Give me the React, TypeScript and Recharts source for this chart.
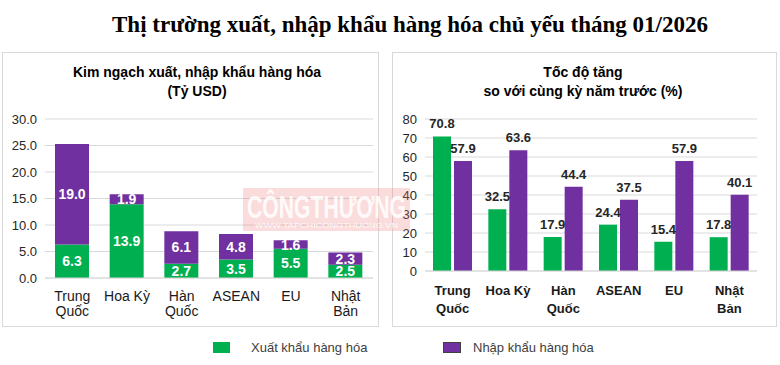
import React from 'react';
import { BarChart, Bar, XAxis, YAxis, CartesianGrid, LabelList } from 'recharts';

const categories = ['Trung\nQuốc', 'Hoa Kỳ', 'Hàn\nQuốc', 'ASEAN', 'EU', 'Nhật\nBản'];
const exportValue = [6.3, 13.9, 2.7, 3.5, 5.5, 2.5];
const importValue = [19.0, 1.9, 6.1, 4.8, 1.6, 2.3];
const exportGrowth = [70.8, 32.5, 17.9, 24.4, 15.4, 17.8];
const importGrowth = [57.9, 63.6, 44.4, 37.5, 57.9, 40.1];
const valueTicks = [0, 5, 10, 15, 20, 25, 30];
const growthTicks = [0, 10, 20, 30, 40, 50, 60, 70, 80];

const GREEN = '#00B050';
const PURPLE = '#7030A0';
const GRID = '#d9d9d9';
const FONT = 'Arial, "Liberation Sans", sans-serif';

const valueData = categories.map((c, i) => ({ name: c, ex: exportValue[i], im: importValue[i] }));
const growthData = categories.map((c, i) => ({ name: c, ex: exportGrowth[i], im: importGrowth[i] }));

// two-line category labels
function CatTick(props: any) {
  const { x, y, payload, dy, gap, weight, size } = props;
  const lines = String(payload.value).split('\n');
  return (
    <g transform={`translate(${x},${y})`}>
      {lines.map((l, i) => (
        <text
          key={i}
          x={0}
          y={dy + i * gap}
          textAnchor="middle"
          fill="#1a1a1a"
          fontSize={size}
          fontWeight={weight}
          fontFamily={FONT}
        >
          {l}
        </text>
      ))}
    </g>
  );
}

const panel: React.CSSProperties = {
  position: 'absolute',
  top: 52,
  height: 275,
  border: `1px solid ${GRID}`,
  boxSizing: 'border-box',
  background: '#fff',
};

const chartTitle: React.CSSProperties = {
  position: 'absolute',
  top: 63,
  textAlign: 'center',
  fontFamily: FONT,
  fontWeight: 'bold',
  fontSize: 14,
  lineHeight: '19px',
  color: '#000',
};

export default function App() {
  return (
    <div
      style={{
        position: 'absolute',
        left: 0,
        top: 0,
        width: 780,
        height: 365,
        background: '#fff',
        overflow: 'hidden',
      }}
    >
      <div
        style={{
          position: 'absolute',
          top: 10,
          left: 0,
          width: 820,
          textAlign: 'center',
          fontFamily: '"Liberation Serif", "Times New Roman", serif',
          fontWeight: 'bold',
          fontSize: 23,
          lineHeight: '30px',
          color: '#000',
        }}
      >
        Thị trường xuất, nhập khẩu hàng hóa chủ yếu tháng 01/2026
      </div>

      <div style={{ ...panel, left: 2, width: 377 }} />
      <div style={{ ...panel, left: 392, width: 385 }} />

      <div style={{ ...chartTitle, left: 2, width: 390 }}>
        Kim ngạch xuất, nhập khẩu hàng hóa
        <br />
        (Tỷ USD)
      </div>
      <div style={{ ...chartTitle, left: 392, width: 382 }}>
        Tốc độ tăng
        <br />
        so với cùng kỳ năm trước (%)
      </div>

      <div style={{ position: 'absolute', left: 2, top: 52 }}>
        <BarChart
          width={376}
          height={275}
          data={valueData}
          margin={{ top: 67, right: 5, bottom: 0, left: 0 }}
          barSize={34}
        >
          <CartesianGrid vertical={false} stroke={GRID} />
          <XAxis
            dataKey="name"
            axisLine={{ stroke: GRID }}
            tickLine={false}
            height={49}
            interval={0}
            tick={<CatTick dy={15} gap={15} size={14} weight="normal" />}
          />
          <YAxis
            width={43}
            domain={[0, 30]}
            ticks={valueTicks}
            interval={0}
            axisLine={false}
            tickLine={false}
            tickFormatter={(v: number) => v.toFixed(1)}
            tick={{ fill: '#262626', fontSize: 13, fontFamily: FONT }}
          />
          <Bar dataKey="ex" stackId="a" fill={GREEN} isAnimationActive={false}>
            <LabelList
              dataKey="ex"
              position="center"
              fill="#fff"
              fontSize={14}
              fontWeight="bold"
              fontFamily={FONT}
              formatter={(v: any) => Number(v).toFixed(1)}
            />
          </Bar>
          <Bar dataKey="im" stackId="a" fill={PURPLE} isAnimationActive={false}>
            <LabelList
              dataKey="im"
              position="center"
              fill="#fff"
              fontSize={14}
              fontWeight="bold"
              fontFamily={FONT}
              formatter={(v: any) => Number(v).toFixed(1)}
            />
          </Bar>
        </BarChart>
      </div>

      <div style={{ position: 'absolute', left: 393, top: 52 }}>
        <BarChart
          width={383}
          height={275}
          data={growthData}
          margin={{ top: 67, right: 19, bottom: 0, left: 0 }}
          barSize={18}
          barGap={3}
        >
          <CartesianGrid vertical={false} stroke={GRID} />
          <XAxis
            dataKey="name"
            axisLine={{ stroke: GRID }}
            tickLine={false}
            height={56}
            interval={0}
            tick={<CatTick dy={16} gap={18} size={13} weight="bold" />}
          />
          <YAxis
            width={32}
            domain={[0, 80]}
            ticks={growthTicks}
            interval={0}
            axisLine={false}
            tickLine={false}
            tick={{ fill: '#262626', fontSize: 13, fontFamily: FONT }}
          />
          <Bar dataKey="ex" fill={GREEN} isAnimationActive={false}>
            <LabelList
              dataKey="ex"
              position="top"
              offset={8}
              fill="#262626"
              fontSize={13}
              fontWeight="bold"
              fontFamily={FONT}
              formatter={(v: any) => Number(v).toFixed(1)}
            />
          </Bar>
          <Bar dataKey="im" fill={PURPLE} isAnimationActive={false}>
            <LabelList
              dataKey="im"
              position="top"
              offset={8}
              fill="#262626"
              fontSize={13}
              fontWeight="bold"
              fontFamily={FONT}
              formatter={(v: any) => Number(v).toFixed(1)}
            />
          </Bar>
        </BarChart>
      </div>

      {/* watermark */}
      <svg
        width={167}
        height={43}
        style={{ position: 'absolute', left: 243, top: 188 }}
      >
        <rect width={167} height={43} fill="rgba(240, 130, 130, 0.28)" />
        <text
          x={4}
          y={30}
          textLength={159}
          lengthAdjust="spacingAndGlyphs"
          fontSize={32}
          fontWeight="bold"
          fontFamily={FONT}
          fill="rgba(255,255,255,0.9)"
        >
          CÔNGTHƯƠNG
        </text>
        <text
          x={12}
          y={40}
          textLength={143}
          lengthAdjust="spacingAndGlyphs"
          fontSize={7}
          fontFamily={FONT}
          fill="rgba(255,255,255,0.9)"
        >
          WWW.TAPCHICONGTHUONG.VN
        </text>
      </svg>

      {/* legend */}
      <div style={{ position: 'absolute', left: 213, top: 342, width: 17, height: 11, background: GREEN }} />
      <div
        style={{ position: 'absolute', left: 251, top: 339, fontFamily: FONT, fontSize: 13, color: '#404040', lineHeight: '17px' }}
      >
        Xuất khẩu hàng hóa
      </div>
      <div
        style={{
          position: 'absolute',
          left: 443,
          top: 342,
          width: 18,
          height: 11,
          background: PURPLE,
          border: '1px solid #404040',
          boxSizing: 'border-box',
        }}
      />
      <div
        style={{ position: 'absolute', left: 473, top: 339, fontFamily: FONT, fontSize: 13, color: '#404040', lineHeight: '17px' }}
      >
        Nhập khẩu hàng hóa
      </div>
    </div>
  );
}
